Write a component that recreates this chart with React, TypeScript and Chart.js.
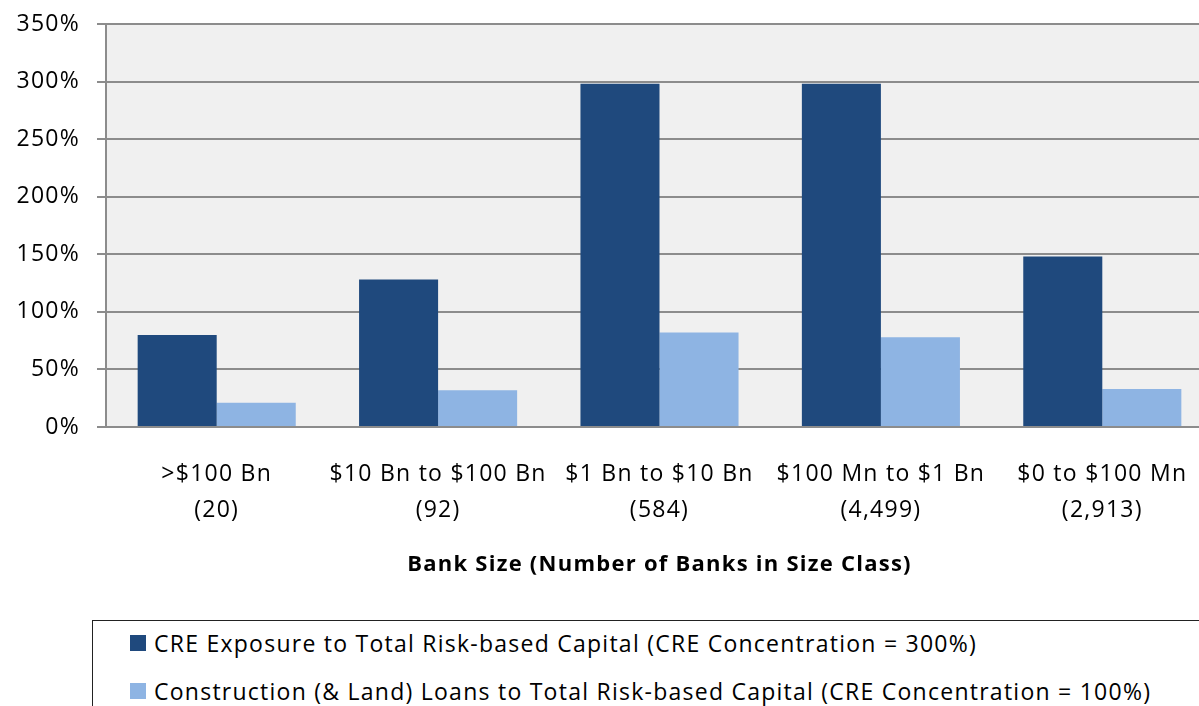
import React, { useEffect, useRef } from "react";
import { Chart, registerables } from "chart.js";

Chart.register(...registerables);

const categories: string[][] = [
  [">$100 Bn", "(20)"],
  ["$10 Bn to $100 Bn", "(92)"],
  ["$1 Bn to $10 Bn", "(584)"],
  ["$100 Mn to $1 Bn", "(4,499)"],
  ["$0 to $100 Mn", "(2,913)"],
];
const creExposure: number[] = [80, 128, 298, 298, 148];
const constructionLoans: number[] = [21, 32, 82, 78, 33];
const seriesLabels: string[] = [
  "CRE Exposure to Total Risk-based Capital (CRE Concentration = 300%)",
  "Construction (& Land) Loans to Total Risk-based Capital (CRE Concentration = 100%)",
];
const seriesColors: string[] = ["#1F497D", "#8EB4E3"];
const yTicks: number[] = [0, 50, 100, 150, 200, 250, 300, 350];
const xTitle = "Bank Size (Number of Banks in Size Class)";

const FONT = "'Open Sans', 'Noto Sans', sans-serif";
const FS = 23;
const SPACING = "1.25px";
const CANVAS_W = 1240;
const CANVAS_H = 610;

const plotBg = {
  id: "plotBg",
  beforeUpdate(chart: any) {
    try {
      chart.ctx.letterSpacing = SPACING;
    } catch (e) {
      /* ignore */
    }
  },
  beforeDraw(chart: any) {
    const { ctx, chartArea } = chart;
    try {
      ctx.letterSpacing = SPACING;
    } catch (e) {
      /* ignore */
    }
    ctx.save();
    ctx.fillStyle = "#F0F0F0";
    ctx.fillRect(chartArea.left, chartArea.top, chartArea.right - chartArea.left, chartArea.bottom - chartArea.top);
    ctx.restore();
  },
};

export default function App() {
  const ref = useRef<HTMLCanvasElement | null>(null);

  useEffect(() => {
    if (!ref.current) return;
    const chart = new Chart(ref.current, {
      type: "bar",
      data: {
        labels: categories,
        datasets: [
          {
            label: seriesLabels[0],
            data: creExposure,
            backgroundColor: seriesColors[0],
            borderWidth: 0,
            categoryPercentage: 0.714,
            barPercentage: 1,
          },
          {
            label: seriesLabels[1],
            data: constructionLoans,
            backgroundColor: seriesColors[1],
            borderWidth: 0,
            categoryPercentage: 0.714,
            barPercentage: 1,
          },
        ],
      },
      options: {
        responsive: false,
        animation: false,
        devicePixelRatio: 1,
        layout: { padding: { left: 0, right: CANVAS_W - 1213, top: 24, bottom: 0 } },
        plugins: {
          legend: { display: false },
          tooltip: { enabled: false },
        },
        scales: {
          x: {
            grid: { display: false },
            border: { display: true, color: "#8C8C8C", width: 2 },
            ticks: {
              color: "#000",
              padding: 21,
              maxRotation: 0,
              autoSkip: false,
              font: { family: FONT, size: FS, lineHeight: 36 / FS },
            },
            title: {
              display: true,
              text: xTitle,
              color: "#000",
              font: { family: FONT, size: 22, weight: "bold", lineHeight: 1.2 },
              padding: { top: 0, bottom: 32 },
            },
            afterFit: (scale: any) => {
              scale.height = CANVAS_H - 427;
            },
          },
          y: {
            min: 0,
            max: 350,
            afterBuildTicks: (scale: any) => {
              scale.ticks = yTicks.map((v) => ({ value: v }));
            },
            grid: {
              color: "#8C8C8C",
              lineWidth: 2,
              tickLength: 9,
              drawTicks: true,
            },
            border: { display: true, color: "#8C8C8C", width: 2 },
            ticks: {
              color: "#000",
              padding: 17,
              font: { family: FONT, size: FS },
              callback: (v: any) => `${v}%`,
            },
            afterFit: (scale: any) => {
              scale.width = 106;
              scale.paddingTop = 0;
            },
          },
        },
      },
      plugins: [plotBg],
    });
    return () => chart.destroy();
  }, []);

  return (
    <div
      style={{
        position: "fixed",
        left: 0,
        top: 0,
        width: 1199,
        height: 706,
        overflow: "hidden",
        background: "#fff",
        fontFamily: FONT,
      }}
    >
      <div style={{ position: "absolute", left: 0, top: 0, width: CANVAS_W, height: CANVAS_H }}>
        <canvas ref={ref} width={CANVAS_W} height={CANVAS_H} style={{ width: CANVAS_W, height: CANVAS_H }} />
      </div>
      <div
        style={{
          position: "absolute",
          left: 92,
          top: 620,
          width: 1200,
          height: 120,
          border: "1px solid #222",
          boxSizing: "border-box",
        }}
      >
        {seriesLabels.map((lab, i) => (
          <div
            key={lab}
            style={{
              position: "absolute",
              left: 37,
              top: 9 + i * 47.5,
              height: 26,
              display: "flex",
              alignItems: "center",
              whiteSpace: "nowrap",
              fontSize: FS,
              letterSpacing: SPACING,
              color: "#000",
            }}
          >
            <span
              style={{
                display: "inline-block",
                width: 16,
                height: 16,
                background: seriesColors[i],
                marginRight: 8,
              }}
            />
            <span>{lab}</span>
          </div>
        ))}
      </div>
    </div>
  );
}
